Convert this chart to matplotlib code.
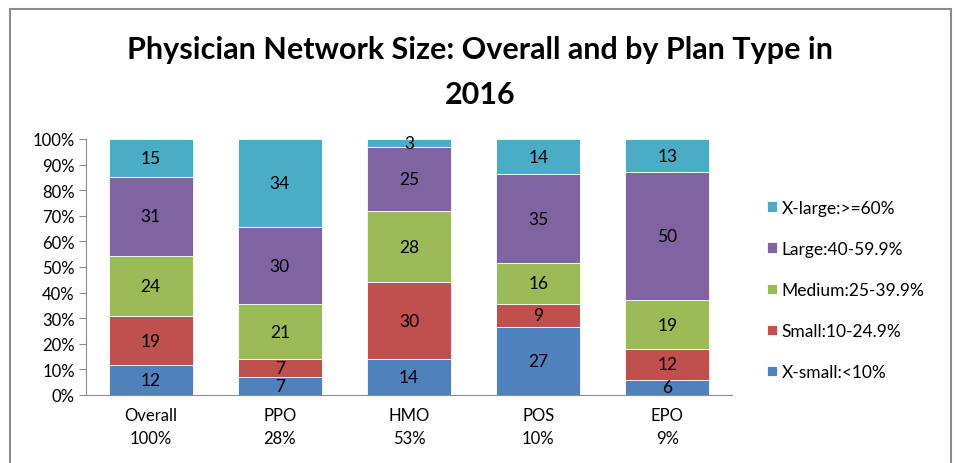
import numpy as np
import matplotlib
matplotlib.use('Agg')
import matplotlib.pyplot as plt
from matplotlib.patches import Rectangle

plt.rcParams['font.family'] = ['Lato', 'DejaVu Sans']

# data
categories = ['Overall\n100%', 'PPO\n28%', 'HMO\n53%', 'POS\n10%', 'EPO\n9%']
series = ['X-small:<10%', 'Small:10-24.9%', 'Medium:25-39.9%', 'Large:40-59.9%', 'X-large:>=60%']
xsmall = [12, 7, 14, 27, 6]
small = [19, 7, 30, 9, 12]
medium = [24, 21, 28, 16, 19]
large = [31, 30, 25, 35, 50]
xlarge = [15, 34, 3, 14, 13]
colors = ['#4f81bd', '#c0504d', '#9bbb59', '#8064a2', '#4bacc6']

vals = np.array([xsmall, small, medium, large, xlarge], dtype=float)
pct = vals / vals.sum(axis=0) * 100

fig = plt.figure(figsize=(9.57, 4.64), dpi=100)
fig.patches.append(Rectangle((10/957, -0.1), 941/957, 1 - 10/464 + 0.1,
                             transform=fig.transFigure, fill=False,
                             edgecolor='#8c8c8c', linewidth=1.5))
ax = fig.add_axes([86/957, 1 - 396/464, (732 - 86)/957, 256/464])

x = np.arange(len(categories))
bottom = np.zeros(len(categories))
for i in range(len(series)):
    ax.bar(x, pct[i], 0.65, bottom=bottom, color=colors[i], label=series[i],
           edgecolor='white', linewidth=0.6)
    for j in range(len(categories)):
        ax.text(x[j], bottom[j] + pct[i][j] / 2, '%d' % vals[i][j],
                ha='center', va='center', fontsize=12.5, color='black')
    bottom += pct[i]

ax.set_xlim(-0.5, len(categories) - 0.5)
ax.set_ylim(0, 100)
ax.set_yticks(np.arange(0, 101, 10))
ax.set_yticklabels(['%d%%' % v for v in range(0, 101, 10)], fontsize=12)
ax.set_xticks(x)
ax.set_xticklabels(categories, fontsize=12, linespacing=1.5)
ax.tick_params(axis='x', length=0, pad=9)
ax.tick_params(axis='y', length=5, color='#8c8c8c', direction='out', pad=3)
for s in ['top', 'right']:
    ax.spines[s].set_visible(False)
ax.spines['left'].set_color('#8c8c8c')
ax.spines['bottom'].set_color('#8c8c8c')

handles, labels = ax.get_legend_handles_labels()
ax.legend(handles[::-1], labels[::-1], loc='center left', bbox_to_anchor=(1.03, 0.41),
          frameon=False, fontsize=12.5, handlelength=0.55, handleheight=0.55,
          handletextpad=0.3, labelspacing=1.45)

fig.text(0.502, 1 - 50/464, 'Physician Network Size: Overall and by Plan Type in',
         ha='center', va='center', fontsize=22, fontweight='bold')
fig.text(0.502, 1 - 95/464, '2016', ha='center', va='center',
         fontsize=22, fontweight='bold')

fig.savefig('out.png', dpi=100)
